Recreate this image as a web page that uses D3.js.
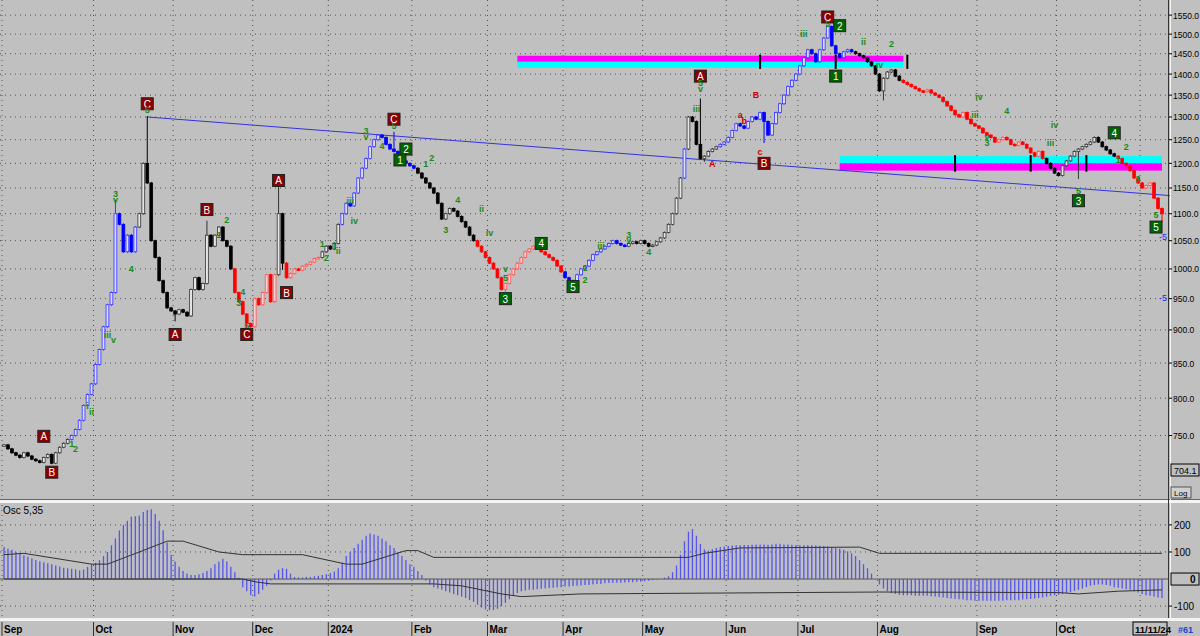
<!DOCTYPE html>
<html><head><meta charset="utf-8">
<script src="https://cdn.jsdelivr.net/npm/d3@7"></script>
<style>body{margin:0;background:#c0c0c0}svg{display:block;font-family:Arial,"Liberation Sans",sans-serif}</style>
</head><body><svg id="c" width="1200" height="636"></svg>
<script>
// ---- closes by month (daily bars) ----
const sep23=[738,733,728,725,722,728,724,720,718,716,722,726,715,728,735,740,745,750,758,770,790,805,820];
const oct23=[848,870,905,940,960,1100,1080,1030,1060,1030,1075,1100,1200,1160,1050,1020,980,960,935,930];
const nov23=[925,932,928,922,965,985,965,975,1060,1040,1060,1075,1050,1040,1000,960,945,925,910,905];
const dec23=[950,940,960,990,945,990,1100,1010,985,992,1000,998,1005,1008,1012,1018,1020,1030,1040];
const jan24=[1035,1045,1080,1100,1120,1115,1140,1170,1190,1210,1235,1250,1260,1255,1240,1230,1225,1215,1205,1200,1195];
const feb24=[1190,1180,1170,1160,1150,1140,1120,1090,1100,1110,1105,1095,1085,1075,1060,1050,1040,1030,1020];
const mar24=[1010,1000,985,965,975,990,1000,1010,1020,1030,1035,1040,1035,1030,1025,1020,1015,1005,995];
const apr24=[985,975,980,990,1000,1005,1015,1025,1030,1035,1040,1045,1050,1045,1042,1040,1045,1048,1045,1050];
const may24=[1045,1040,1042,1048,1055,1065,1080,1100,1130,1170,1230,1300,1290,1240,1210,1215,1225,1230,1235,1240,1245];
const jun24=[1255,1270,1285,1280,1275,1290,1300,1295,1310,1290,1260,1285,1310,1330,1350,1370,1385,1400];
const jul24=[1420,1440,1460,1450,1430,1460,1490,1520,1470,1450,1440,1455,1460,1455,1450,1445,1440,1430,1420,1400];
const aug24=[1360,1390,1405,1410,1395,1385,1380,1375,1370,1365,1360,1358,1362,1355,1350,1345,1335,1325,1315,1305,1300,1310,1295,1285,1280];
const sep24=[1275,1265,1260,1255,1245,1250,1255,1250,1240,1238,1245,1240,1232,1222,1215,1225,1210,1200,1190,1180];
const oct24=[1175,1195,1205,1215,1225,1230,1235,1240,1245,1255,1245,1235,1228,1220,1215,1210,1200,1195,1185,1170,1160,1150];
const nov24=[1155,1160,1130,1110,1100];
const months=[sep23,oct23,nov23,dec23,jan24,feb24,mar24,apr24,may24,jun24,jul24,aug24,sep24,oct24,nov24];
const monthLabels=["Sep","Oct","Nov","Dec","2024","Feb","Mar","Apr","May","Jun","Jul","Aug","Sep","Oct","11/11/24"];
// notable highs/lows (wick extremes)
const wickExt=[[28,1125],[36,1300],[43,915],[51,1085],[61,895],[69,1150],[70,1000],[98,1265],[126,960],[175,1340],[176,1205],[191,1245],[207,1520],[221,1340],[270,1170],[291,1085]];
// colour runs [startBar, code]
const colorRuns=[[0,"k"],[17,"b"],[34,"k"],[58,"r"],[69,"k"],[71,"r"],[80,"k"],[85,"b"],[104,"k"],[119,"r"],[141,"b"],[157,"k"],[171,"b"],[172,"k"],[180,"b"],[214,"k"],[226,"r"],[262,"k"],[268,"k"],[280,"r"]];
// ---- oscillator per bar ----
const oscSep23=[118,112,108,100,95,88,82,76,70,66,62,58,55,50,46,42,40,38,36,32,35,45,55];
const oscOct23=[60,70,85,100,125,150,180,200,215,230,232,235,248,255,258,240,215,180,135,90];
const oscNov23=[65,45,30,20,15,15,18,22,30,40,55,65,75,65,45,25,5,-30,-45,-60];
const oscDec23=[-65,-55,-40,-25,-5,20,35,40,38,20,8,6,6,8,8,10,12,15,18];
const oscJan24=[22,28,40,60,85,100,115,130,145,160,168,165,160,150,140,125,115,100,85,70,55];
const oscFeb24=[45,30,15,-5,-20,-30,-35,-40,-45,-50,-55,-60,-65,-70,-78,-85,-95,-105,-112];
const oscMar24=[-115,-115,-110,-100,-88,-75,-62,-52,-45,-42,-40,-40,-38,-36,-35,-33,-32,-30,-30];
const oscApr24=[-28,-28,-26,-25,-24,-22,-22,-20,-18,-18,-16,-15,-15,-14,-14,-13,-12,-12,-10,-10];
const oscMay24=[-8,-6,-4,-2,0,5,10,25,50,90,140,175,185,160,130,110,105,110,115,118,120];
const oscJun24=[122,124,125,125,126,126,127,128,128,128,127,128,130,130,128,128,127,126];
const oscJul24=[125,125,126,125,124,123,122,120,118,115,112,108,102,95,85,70,55,40,20,0];
const oscAug24=[-20,-35,-45,-52,-55,-58,-60,-60,-60,-62,-62,-62,-62,-64,-65,-66,-68,-70,-72,-74,-75,-76,-78,-78,-80];
const oscSep24=[-80,-80,-80,-80,-80,-80,-80,-78,-78,-78,-78,-76,-75,-74,-72,-70,-68,-65,-62,-60];
const oscOct24=[-58,-55,-52,-48,-44,-40,-35,-30,-25,-22,-20,-20,-22,-25,-30,-32,-35,-38,-40,-45,-50,-55];
const oscNov24=[-60,-62,-65,-68,-70];
const oscUpper=[[0,90],[5,95],[22,55],[26,55],[34,100],[41,140],[45,140],[54,100],[60,90],[75,90],[86,55],[90,55],[101,105],[104,105],[108,80],[172,80],[176,95],[185,115],[215,118],[220,95],[291,95]];
const oscLower=[[0,0],[60,0],[63,-10],[67,-18],[108,-18],[115,-25],[125,-55],[130,-65],[145,-55],[220,-48],[265,-50],[270,-55],[280,-45],[291,-40]];
// ---- overlays ----
const bands=[{s:129,e:226,top:1445,mid:1430,bot:1415,upper:"#ff00ff",lower:"#00ffff",marks:[190,209,227]},
             {s:210,e:291,top:1215,mid:1200,bot:1185,upper:"#00ffff",lower:"#ff00ff",marks:[239,258,272]}];
const trend=[[36,1300],[293,1135]];
const priceTicks=[750,800,850,900,950,1000,1050,1100,1150,1200,1250,1300,1350,1400,1450,1500,1550];
const oscTicks=[200,100,0,-100];
// labels: [bar, price, text, type]
const labels=[
[10,749,"A","R"],[12,704,"B","R"],[17,740,"1","g"],[18,733,"2","g"],[21,790,"i","g"],[22,782,"ii","g"],
[26,893,"iii","g"],[27.5,886,"v","g"],[28,1140,"3","g"],[28,1128,"v","g"],[32,1000,"4","g"],
[36,1330,"C","R"],[36,1316,"5","g"],[43,893,"A","R"],[51,1108,"B","R"],[56,1090,"2","g"],[54,1062,"1","g"],
[60,962,"4","g"],[59,944,"3","g"],[61,907,"5","g"],[61,893,"C","R"],[69,1165,"A","R"],[71,960,"B","R"],
[80,1045,"1","g"],[81,1020,"2","g"],[83,1042,"i","g"],[84,1032,"ii","g"],[87,1125,"iii","g"],[88,1087,"iv","g"],
[91,1270,"3","g"],[91,1258,"v","g"],[95,1238,"4","g"],[98,1295,"C","R"],[98,1282,"5","g"],[101,1230,"2","G"],[99.5,1207,"1","G"],
[106,1200,"1","g"],[107.5,1212,"2","g"],[111,1070,"3","g"],[114,1128,"4","g"],[120,1110,"ii","g"],[122,1065,"iv","g"],
[126,1000,"v","g"],[126,985,"5","g"],[126,950,"3","G"],[135,1045,"4","G"],[143,970,"5","G"],[146,1003,"1","g"],[146,982,"2","g"],
[150,1042,"iii","g"],[157,1062,"3","g"],[157,1052,"v","g"],[162,1030,"4","g"],
[175,1395,"A","R"],[175,1380,"5","g"],[175,1365,"v","g"],[174,1320,"iii","g"],[178,1200,"A","r"],
[191,1200,"B","R"],[189,1352,"B","r"],[185,1305,"a","r"],[186,1293,"b","r"],[190,1225,"c","r"],
[201,1502,"iii","g"],[207,1545,"C","R"],[207,1528,"5","g"],[210,1522,"2","G"],[209,1395,"1","G"],[216,1480,"ii","g"],[220,1423,"iv","g"],[223,1475,"2","g"],
[245,1346,"iv","g"],[244,1306,"iii","g"],[247,1257,"v","g"],[247,1245,"3","g"],[252,1315,"4","g"],[264,1283,"iv","g"],[263,1243,"iii","g"],
[270,1125,"3","G"],[270,1145,"5","g"],[279,1265,"4","G"],[282,1235,"2","g"],[280,1208,"1","g"],[285,1170,"3","g"],[289.5,1098,"5","g"],[289.5,1075,"5","G"]
];

// ---- drawing ----
const closes=months.flat(), N=closes.length;
const svg=d3.select("#c");
const PL=0,PR=1168,PT=0,PB=500,OT=503,OB=618;
const x=d3.scaleLinear().domain([0,N-1]).range([4,1162]);
const y=d3.scaleLog().domain([671,1591]).range([PB,PT]);
const yo=d3.scaleLinear().domain([-144,281]).range([OB,OT]);
const g=svg.append("g");
g.append("rect").attr("width",1200).attr("height",636).attr("fill","#c0c0c0");
const starts=[];let c=0;months.forEach(m=>{starts.push(c);c+=m.length;});
const tickBars=starts.map((s,i)=>i===months.length-1?s-1:s);
const dot="1,4";
g.selectAll(".vg").data(tickBars).join("line").attr("x1",d=>x(d)-2).attr("x2",d=>x(d)-2).attr("y1",PT).attr("y2",OB)
 .attr("stroke","#505050").attr("stroke-dasharray",dot).attr("stroke-width",1);
g.selectAll(".hg").data(priceTicks).join("line").attr("x1",0).attr("x2",PR).attr("y1",d=>y(d)).attr("y2",d=>y(d))
 .attr("stroke","#505050").attr("stroke-dasharray",dot);
g.selectAll(".og").data([200,100,-100]).join("line").attr("x1",0).attr("x2",PR).attr("y1",d=>yo(d)).attr("y2",d=>yo(d))
 .attr("stroke","#505050").attr("stroke-dasharray",dot);
function colOf(i){let k="k";colorRuns.forEach(r=>{if(i>=r[0])k=r[1];});return k;}
const colMap={k:"#000",b:"#0000ff",r:"#ff0000"};
const upFill={k:"#e6e6e6",b:"#dcdcff",r:"#ffd0d0"};
const upStroke={k:"#333",b:"#3333ff",r:"#ff5050"};
bands.forEach(b=>{
  g.append("rect").attr("x",x(b.s)).attr("width",x(b.e)-x(b.s)).attr("y",y(b.top)).attr("height",y(b.mid)-y(b.top)).attr("fill",b.upper);
  g.append("rect").attr("x",x(b.s)).attr("width",x(b.e)-x(b.s)).attr("y",y(b.mid)).attr("height",y(b.bot)-y(b.mid)).attr("fill",b.lower);
  b.marks.forEach(m=>g.append("rect").attr("x",x(m)-1).attr("width",2).attr("y",y(b.top)-1).attr("height",y(b.bot)-y(b.top)+2).attr("fill","#000"));
});
g.append("line").attr("x1",x(trend[0][0])).attr("y1",y(trend[0][1])).attr("x2",x(trend[1][0])).attr("y2",y(trend[1][1]))
 .attr("stroke","#3333dd").attr("stroke-width",1);
const ext=new Map(wickExt);
closes.forEach((cl,i)=>{
  const op=i?closes[i-1]:cl, k=colOf(i), up=cl>=op;
  let hi=Math.max(op,cl), lo=Math.min(op,cl);
  if(ext.has(i)){const e=ext.get(i); if(e>hi)hi=e; if(e<lo)lo=e;}
  const cx=x(i);
  g.append("line").attr("x1",cx).attr("x2",cx).attr("y1",y(hi)-1).attr("y2",y(lo)+1)
   .attr("stroke",up?upStroke[k]:colMap[k]).attr("stroke-width",1);
  const h=Math.max(1.5,Math.abs(y(op)-y(cl)));
  g.append("rect").attr("x",cx-1.4).attr("width",2.8).attr("y",Math.min(y(op),y(cl))).attr("height",h)
   .attr("fill",up?upFill[k]:colMap[k]).attr("stroke",up?upStroke[k]:colMap[k]).attr("stroke-width",0.8);
});
labels.forEach(([b,p,t,ty])=>{
  const cx=x(b), cy=y(p);
  if(ty==="R"||ty==="G"){
    g.append("rect").attr("x",cx-6).attr("y",cy-6).attr("width",12).attr("height",12)
     .attr("fill",ty==="R"?"#8b0000":"#006400").attr("stroke","#222");
    g.append("text").attr("x",cx).attr("y",cy+4).attr("text-anchor","middle").attr("font-size",10).attr("fill","#fff").text(t);
  } else {
    g.append("text").attr("x",cx).attr("y",cy+3.5).attr("text-anchor","middle").attr("font-size",9).attr("font-weight","bold")
     .attr("fill",ty==="g"?"#1a8a1a":"#cc0000").text(t);
  }
});
g.append("text").attr("x",1167).attr("y",y(1058)+4).attr("text-anchor","end").attr("font-size",9).attr("fill","#2222ff").text("-5");
g.append("text").attr("x",1167).attr("y",y(953)+4).attr("text-anchor","end").attr("font-size",9).attr("fill","#2222ff").text("-5");
const oscAll=[oscSep23,oscOct23,oscNov23,oscDec23,oscJan24,oscFeb24,oscMar24,oscApr24,oscMay24,oscJun24,oscJul24,oscAug24,oscSep24,oscOct24,oscNov24].flat();
g.selectAll(".ob").data(oscAll).join("line").attr("x1",(d,i)=>x(i)).attr("x2",(d,i)=>x(i)).attr("y1",yo(0)).attr("y2",d=>yo(d))
 .attr("stroke","#5555ee").attr("stroke-width",1.3);
const ln=d3.line().x(d=>x(d[0])).y(d=>yo(d[1]));
g.append("line").attr("x1",0).attr("x2",PR).attr("y1",yo(0)).attr("y2",yo(0)).attr("stroke","#555").attr("stroke-width",1);
[oscUpper,oscLower].forEach(a=>g.append("path").attr("d",ln(a)).attr("fill","none").attr("stroke","#333").attr("stroke-width",1));
g.append("text").attr("x",3).attr("y",514).attr("font-size",10).attr("fill","#000").text("Osc 5,35");
g.append("rect").attr("x",0).attr("y",500).attr("width",1200).attr("height",3).attr("fill","#f4f4f4");
g.append("line").attr("x1",0).attr("x2",1200).attr("y1",499.5).attr("y2",499.5).attr("stroke","#666");
g.append("rect").attr("x",0).attr("y",618).attr("width",1200).attr("height",3).attr("fill","#f4f4f4");
g.append("line").attr("x1",PR+0.5).attr("x2",PR+0.5).attr("y1",0).attr("y2",618).attr("stroke","#333");
g.append("line").attr("x1",PR+2.5).attr("x2",PR+2.5).attr("y1",0).attr("y2",618).attr("stroke","#f4f4f4");
// price axis
g.selectAll(".ptk").data(priceTicks).join("line").attr("x1",1169).attr("x2",1172).attr("y1",d=>y(d)).attr("y2",d=>y(d)).attr("stroke","#000");
g.selectAll(".pt").data(priceTicks).join("text").attr("x",1173).attr("y",d=>y(d)+3.5).attr("font-size",8.5).attr("fill","#000").text(d=>d.toFixed(1));
g.append("rect").attr("x",1171).attr("y",464).attr("width",28).attr("height",12).attr("fill","#c0c0c0").attr("stroke","#000");
g.append("text").attr("x",1174).attr("y",474).attr("font-size",9).text("704.1");
g.append("rect").attr("x",1171).attr("y",487).attr("width",20).attr("height",11).attr("fill","#d0d0d0").attr("stroke","#555");
g.append("text").attr("x",1174).attr("y",496).attr("font-size",8).text("Log");
g.selectAll(".otk").data(oscTicks.filter(d=>d!==0)).join("line").attr("x1",1169).attr("x2",1172).attr("y1",d=>yo(d)).attr("y2",d=>yo(d)).attr("stroke","#000");
g.selectAll(".ot").data(oscTicks.filter(d=>d!==0)).join("text").attr("x",1174).attr("y",d=>yo(d)+4).attr("font-size",10).text(d=>d);
g.append("rect").attr("x",1171).attr("y",yo(0)-6).attr("width",28).attr("height",12).attr("fill","#c0c0c0").attr("stroke","#000");
g.append("text").attr("x",1190).attr("y",yo(0)+4).attr("font-size",10).attr("font-weight","bold").text("0");
tickBars.forEach((b,i)=>{
  const xx=x(b)-2, last=i===months.length-1;
  if(last){
    g.append("rect").attr("x",1133).attr("y",622).attr("width",34).attr("height",13).attr("fill","#c0c0c0").attr("stroke","#000");
    g.append("text").attr("x",1135).attr("y",633).attr("font-size",9.5).attr("font-weight","bold").text(monthLabels[i]);
  } else {
    g.append("line").attr("x1",xx).attr("x2",xx).attr("y1",622).attr("y2",636).attr("stroke","#333");
    g.append("text").attr("x",xx+2).attr("y",633).attr("font-size",10).attr("font-weight","bold").text(monthLabels[i]);
  }
});
g.append("text").attr("x",1178).attr("y",633).attr("font-size",9).attr("font-weight","bold").attr("fill","#2244cc").text("#61");
</script></body></html>
